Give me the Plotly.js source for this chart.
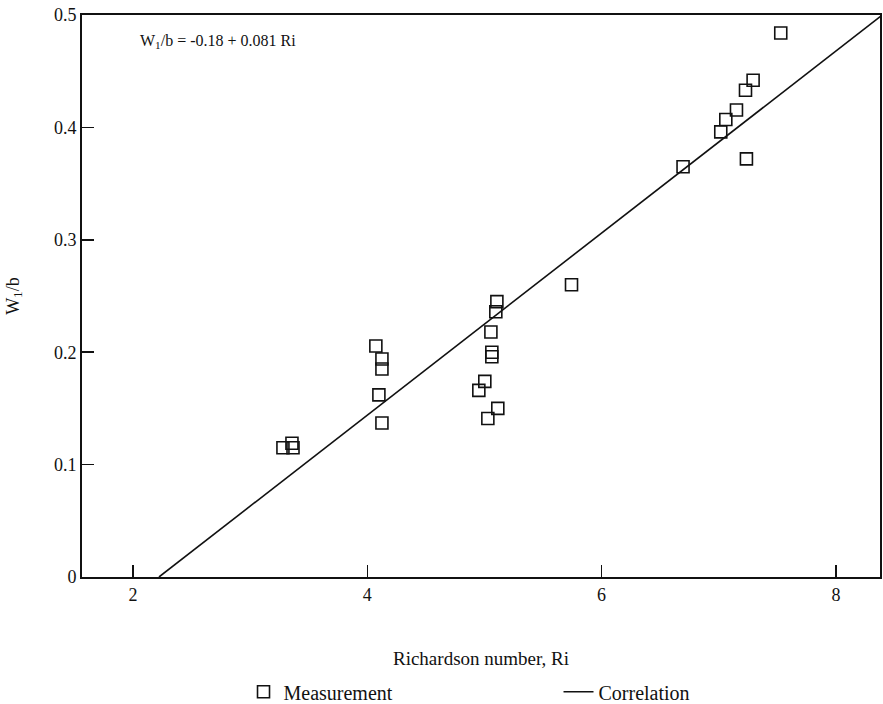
<!DOCTYPE html>
<html>
<head>
<meta charset="utf-8">
<script src="https://cdn.plot.ly/plotly-3.0.1.min.js"></script>
<style>html,body{margin:0;padding:0;background:#fff;}#chart{width:883px;height:704px;}</style>
</head>
<body>
<div id="chart"></div>
<script>
// Measurement points (Richardson number vs W1/b)
const measRi = [3.28, 3.357, 3.366,
  4.073, 4.125, 4.125, 4.099, 4.125,
  5.106, 5.097, 5.055, 5.063, 5.063, 4.952, 5.003, 5.114, 5.029,
  5.743, 6.695, 7.017, 7.060, 7.151, 7.228, 7.293, 7.236, 7.529];
const measW = [0.115, 0.119, 0.115,
  0.2055, 0.194, 0.185, 0.162, 0.137,
  0.245, 0.236, 0.218, 0.200, 0.196, 0.166, 0.174, 0.150, 0.141,
  0.260, 0.365, 0.396, 0.407, 0.4155, 0.433, 0.442, 0.372, 0.484];
// Correlation line endpoints: W1/b = -0.18 + 0.081 Ri
const corrRi = [2.222, 8.395];
const corrW = [0.0, 0.50];
const xTicks = [2, 4, 6, 8];
const yTicks = [0, 0.1, 0.2, 0.3, 0.4, 0.5];
const yTickText = ["0", "0.1", "0.2", "0.3", "0.4", "0.5"];

const ink = '#111';
const serif = 'Liberation Serif, Times New Roman, serif';

const traces = [
  {x: measRi, y: measW, mode: 'markers', type: 'scatter', name: 'Measurement',
   marker: {symbol: 'square-open', size: 12, color: ink, line: {width: 1.6, color: ink}}},
  {x: corrRi, y: corrW, mode: 'lines', type: 'scatter', name: 'Correlation',
   line: {color: ink, width: 1.6}}
];

const layout = {
  width: 883, height: 704,
  margin: {l: 82, r: 3, t: 15, b: 127},
  paper_bgcolor: '#fff', plot_bgcolor: '#fff',
  font: {family: serif, size: 16, color: ink},
  showlegend: true,
  legend: {orientation: 'h', x: 0.2024, xanchor: 'left', xref: 'paper',
           y: 0.045, yanchor: 'top', yref: 'container',
           font: {family: serif, size: 20, color: ink}, entrywidth: 270, itemwidth: 30},
  xaxis: {range: [1.565, 8.376], tickvals: xTicks, ticks: 'inside', ticklen: 12, tickwidth: 1.5,
          tickcolor: ink, showline: true, linecolor: ink, linewidth: 2, mirror: true,
          showgrid: false, zeroline: false, automargin: false,
          tickfont: {family: serif, size: 18, color: ink},
          title: {text: 'Richardson number, Ri', standoff: 48, font: {family: serif, size: 19, color: ink}}},
  yaxis: {range: [0, 0.5], tickvals: yTicks, ticktext: yTickText, ticks: 'inside', ticklen: 12, tickwidth: 1.5,
          tickcolor: ink, showline: true, linecolor: ink, linewidth: 2, mirror: true,
          showgrid: false, zeroline: false, automargin: false,
          tickfont: {family: serif, size: 18, color: ink},
          title: {text: 'W<sub>1</sub>/b', standoff: 30, font: {family: serif, size: 18, color: ink}}},
  annotations: [{x: 2.04, y: 0.476, xref: 'x', yref: 'y', xanchor: 'left', yanchor: 'middle',
                 text: 'W<sub>1</sub>/b = -0.18 + 0.081 Ri', showarrow: false,
                 font: {family: serif, size: 16, color: ink}}]
};

Plotly.newPlot('chart', traces, layout, {displayModeBar: false, staticPlot: true});
</script>
</body>
</html>
